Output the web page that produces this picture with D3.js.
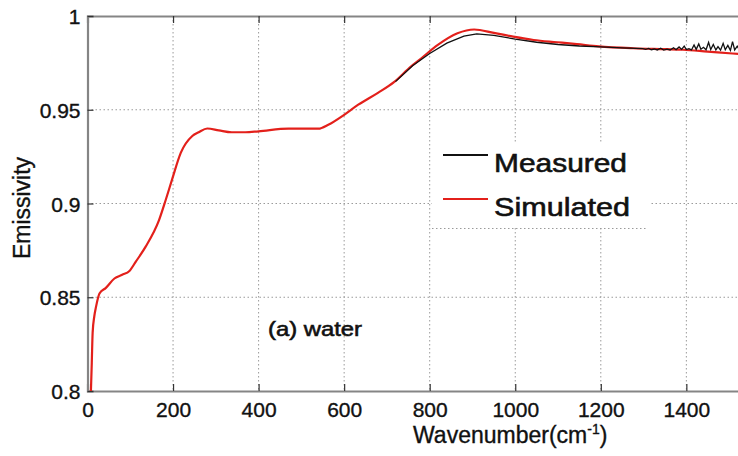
<!DOCTYPE html>
<html>
<head>
<meta charset="utf-8">
<script src="https://cdn.jsdelivr.net/npm/d3@7"></script>
<style>
  body { margin: 0; background: #fff; }
  svg { display: block; }
  text { font-family: "Liberation Sans", Arial, sans-serif; fill: #111; stroke: #111; stroke-width: 0.35px; }
</style>
</head>
<body>
<svg id="chart" width="738" height="456"></svg>
<script>
// simulated emissivity (red)
var simWn  = [8, 10, 12, 16, 20, 28, 43, 63, 81, 98, 113, 136, 167, 183, 198, 218, 245, 260, 280, 307, 337, 369, 400, 470, 540, 563, 600, 633, 679, 718, 756, 776, 819, 865, 904, 950, 995, 1043, 1098, 1144, 1195, 1276, 1353, 1392, 1450, 1508, 1560];
var simVal = [0.800, 0.815, 0.831, 0.840, 0.845, 0.852, 0.855, 0.860, 0.862, 0.864, 0.869, 0.877, 0.891, 0.902, 0.913, 0.927, 0.936, 0.938, 0.940, 0.939, 0.938, 0.938, 0.9385, 0.9399, 0.9399, 0.942, 0.9473, 0.9527, 0.959, 0.965, 0.973, 0.9766, 0.9846, 0.9908, 0.9928, 0.991, 0.989, 0.9872, 0.986, 0.985, 0.9838, 0.9828, 0.9823, 0.982, 0.981, 0.980, 0.9792];

// measured emissivity (black), noisy past ~1300
var measWn  = [720, 760, 800, 840, 880, 910, 950, 1000, 1050, 1100, 1150, 1200, 1250, 1298,
  1305, 1312, 1318, 1325, 1332, 1340, 1347, 1355, 1362, 1370, 1376, 1383, 1389, 1395, 1400,
  1406, 1412, 1418, 1423, 1429, 1434, 1440, 1446, 1452, 1457, 1463, 1469, 1474, 1480, 1486,
  1491, 1497, 1503, 1508, 1513, 1519, 1525, 1531, 1537, 1545, 1552];
var measVal = [0.965, 0.9735, 0.980, 0.9855, 0.9893, 0.9905, 0.9897, 0.9877, 0.986, 0.9848, 0.984, 0.9835, 0.983, 0.9826,
  0.9822, 0.9827, 0.9820, 0.9824, 0.9819, 0.9828, 0.9818, 0.9823, 0.9819, 0.9831, 0.9820, 0.9835, 0.9822, 0.9839, 0.9821,
  0.9826, 0.9819, 0.9846, 0.9822, 0.9851, 0.9823, 0.9833, 0.9820, 0.9859, 0.9821, 0.9848, 0.9819, 0.9837, 0.9818, 0.9854,
  0.9820, 0.9843, 0.9817, 0.9863, 0.9819, 0.9839, 0.9816, 0.9856, 0.9818, 0.9845, 0.9816];

var xTicks = [0, 200, 400, 600, 800, 1000, 1200, 1400];
var yTicks = [0.8, 0.85, 0.9, 0.95, 1];
var yTickLabels = ["0.8", "0.85", "0.9", "0.95", "1"];

function drawChart()
{
    var svg = d3.select("#chart");
    var plotLeft = 87.5, plotTop = 16, plotBottom = 391, plotRight = 943;

    var x = d3.scaleLinear().domain([0, 2000]).range([plotLeft, plotRight]);
    var y = d3.scaleLinear().domain([0.8, 1]).range([plotBottom, plotTop]);

    // dotted grid
    var grid = svg.append("g").attr("stroke", "#9a9a9a").attr("stroke-width", 1).attr("stroke-dasharray", "1.5,2.5");
    grid.selectAll(".vg").data(xTicks.slice(1)).join("line")
        .attr("x1", d => x(d)).attr("x2", d => x(d)).attr("y1", plotTop).attr("y2", plotBottom);
    grid.selectAll(".hg").data(yTicks.slice(1, -1)).join("line")
        .attr("x1", plotLeft).attr("x2", plotRight).attr("y1", d => y(d)).attr("y2", d => y(d));

    // axes, ticks pointing inward
    var gx = svg.append("g").attr("transform", "translate(0," + plotBottom + ")")
        .call(d3.axisBottom(x).tickValues(xTicks).tickSize(-7).tickPadding(11).tickFormat(d3.format("d")));
    var gt = svg.append("g").attr("transform", "translate(0," + plotTop + ")")
        .call(d3.axisTop(x).tickValues(xTicks).tickSize(-7).tickFormat(""));
    var gy = svg.append("g").attr("transform", "translate(" + plotLeft + ",0)")
        .call(d3.axisLeft(y).tickValues(yTicks).tickSize(-6).tickPadding(7).tickFormat((d, i) => yTickLabels[i]));

    [gx, gt, gy].forEach(function(g){
        g.select(".domain").attr("stroke", "#858585").attr("stroke-width", 2.2);
        g.selectAll(".tick line").attr("stroke", "#333").attr("stroke-width", 1.2);
        g.selectAll(".tick text").attr("font-size", 21).attr("fill", "#111")
            .style("font-family", "'Liberation Sans', Arial, sans-serif");
    });
    gy.selectAll(".tick text").attr("dy", "0.36em");

    // series
    var simData = simWn.map((w, i) => [w, simVal[i]]);
    var measData = measWn.map((w, i) => [w, measVal[i]]);
    var smooth = d3.line().x(d => x(d[0])).y(d => y(d[1])).curve(d3.curveMonotoneX);
    var raw = d3.line().x(d => x(d[0])).y(d => y(d[1]));

    svg.append("path").datum(simData).attr("d", smooth)
        .attr("fill", "none").attr("stroke", "#e3201b").attr("stroke-width", 2.2);
    svg.append("path").datum(measData).attr("d", raw)
        .attr("fill", "none").attr("stroke", "#111").attr("stroke-width", 1.3);

    // legend
    var lg = svg.append("g");
    lg.append("rect").attr("x", 432).attr("y", 142).attr("width", 218).attr("height", 85).attr("fill", "#fff");
    lg.append("line").attr("x1", 432).attr("x2", 648).attr("y1", 228.5).attr("y2", 228.5)
        .attr("stroke", "#9a9a9a").attr("stroke-dasharray", "1.5,2.5");
    var legendItems = [["Measured", "#111", 155, 133], ["Simulated", "#e3201b", 199, 136]];
    legendItems.forEach(function(it){
        lg.append("line").attr("x1", 443).attr("x2", 488).attr("y1", it[2]).attr("y2", it[2])
            .attr("stroke", it[1]).attr("stroke-width", 2);
        lg.append("text").attr("x", 494).attr("y", it[2] + 17).attr("font-size", 26)
            .style("stroke-width", "0.6px")
            .attr("textLength", it[3]).attr("lengthAdjust", "spacingAndGlyphs")
            .text(it[0]);
    });

    // annotation
    svg.append("text").attr("x", 268).attr("y", 336).attr("font-size", 21)
        .style("stroke-width", "0.6px")
        .attr("textLength", 94).attr("lengthAdjust", "spacingAndGlyphs").text("(a) water");

    // axis titles
    svg.append("text").attr("transform", "translate(30,208) rotate(-90)").attr("text-anchor", "middle")
        .attr("font-size", 23).text("Emissivity");
    var xt = svg.append("text").attr("x", 413).attr("y", 443).attr("font-size", 23);
    xt.append("tspan").text("Wavenumber(cm");
    xt.append("tspan").attr("font-size", 14).attr("dy", -9).text("-1");
    xt.append("tspan").attr("dy", 9).text(")");
}

drawChart();
</script>
</body>
</html>
